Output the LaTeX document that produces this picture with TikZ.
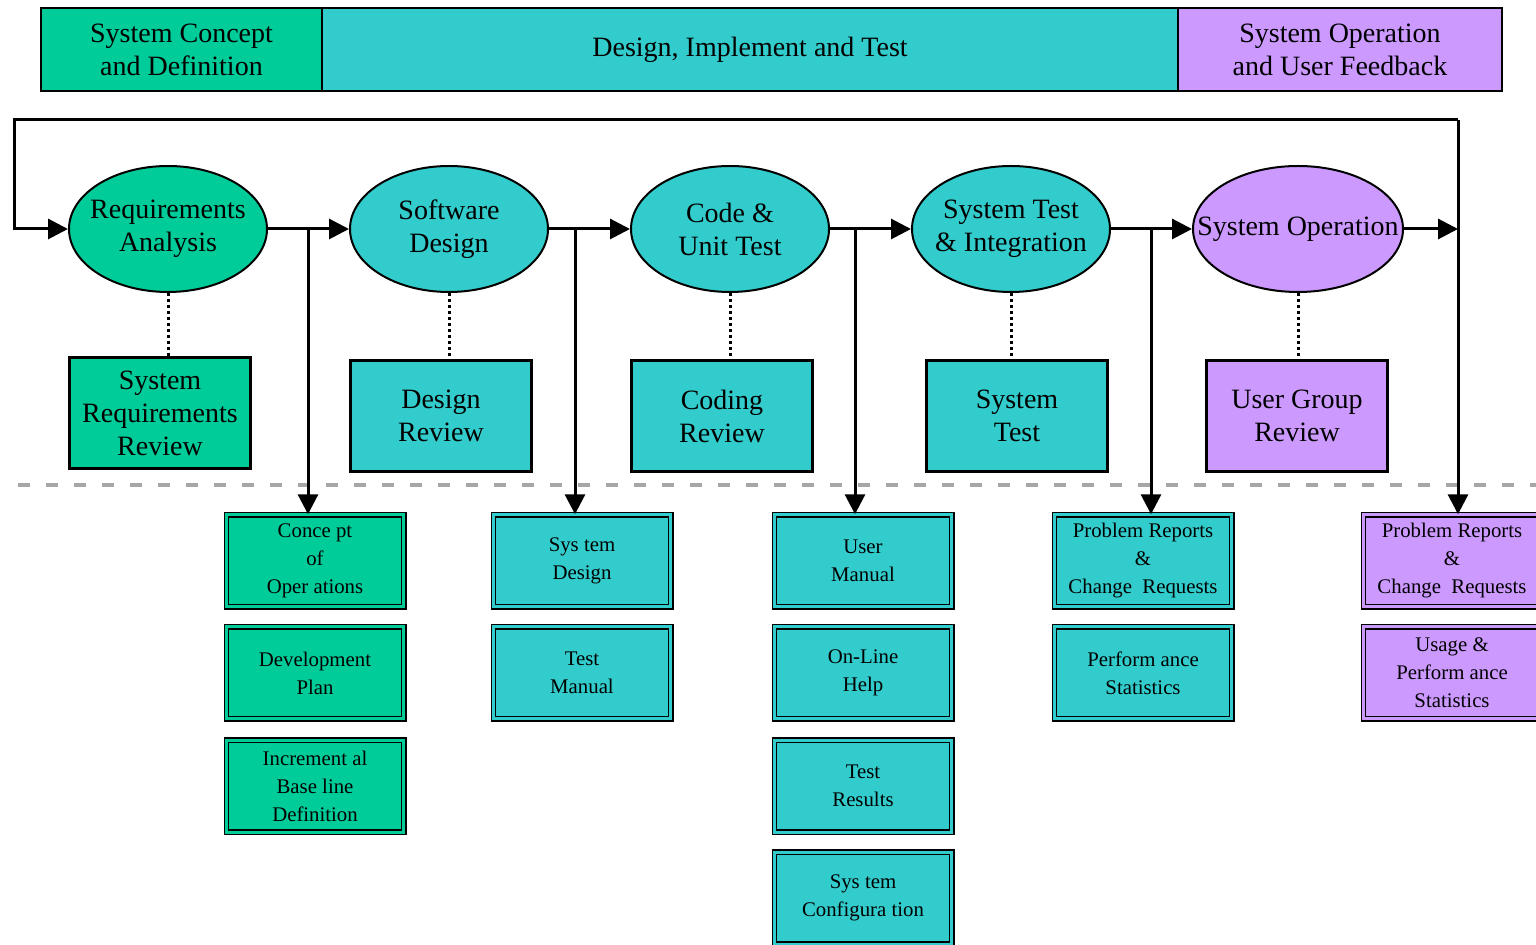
\documentclass[tikz,border=0pt]{standalone}
\usepackage{fontspec}
\setmainfont{Liberation Serif}
\usetikzlibrary{shapes.geometric,arrows.meta}
\definecolor{lcgreen}{HTML}{00CC99}
\definecolor{lccyan}{HTML}{33CCCC}
\definecolor{lcviolet}{HTML}{CC99FF}
\definecolor{lcgrey}{HTML}{A6A6A6}

\begin{document}
\begin{tikzpicture}[
        x=0.5pt, y=-0.5pt,
        every node/.style={font=\fontsize{14}{16.5}\selectfont, align=center, text=black},
        band/.style={
          draw=black, line width=1pt,
          minimum height=41.5pt, inner sep=0pt,
        },
        phase/.style={
          ellipse, draw=black, line width=1pt,
          minimum width=99pt, minimum height=63pt, inner ysep=0pt, inner xsep=-14pt,
        },
        rev/.style={
          draw=black, line width=1.75pt,
          minimum width=90.5pt, minimum height=55.5pt, inner sep=0pt,
        },
        doc/.style={
          draw=black, line width=0.7pt, double=#1, double distance=1.5pt,
          fill=#1, minimum width=88.6pt, minimum height=46pt, inner sep=0pt,
          font=\fontsize{10.4}{14}\selectfont,
        },
        flow/.style={-{Triangle[length=10pt,width=10pt]}, line width=1.5pt},
        tie/.style={line width=1.5pt, dash pattern=on 1.5pt off 1.5pt},
        sep/.style={draw=lcgrey, line width=2pt, dash pattern=on 6pt off 8pt},
      ]
      \useasboundingbox (0,0) rectangle (1536,945);

      % phase banner
      \node[band, fill=lcgreen,  minimum width=140.5pt] (bcon) at (181.5,49.5) {System Concept\\and Definition};
      \node[band, fill=lccyan,   minimum width=428pt]   (bdes) at (750,49.5)   {Design, Implement and Test};
      \node[band, fill=lcviolet, minimum width=162pt]   (bops) at (1340,49.5)  {System Operation\\and User Feedback};

      % activities
      \node[phase, fill=lcgreen]  (ra)  at (168,229)  {Requirements\\Analysis};
      \node[phase, fill=lccyan]   (sd)  at (449,229)  {Software\\Design};
      \node[phase, fill=lccyan]   (cut) at (730,229)  {Code \&\\Unit Test};
      \node[phase, fill=lccyan]   (sti) at (1011,229) {System Test\\\& Integration};
      \node[phase, fill=lcviolet, minimum width=105pt] (sop) at (1298,229) {System Operation};

      % reviews
      \node[rev, fill=lcgreen]  (srr) at (160,413)  {System\\Requirements\\Review};
      \node[rev, fill=lccyan]   (dr)  at (441,416)  {Design\\Review};
      \node[rev, fill=lccyan]   (cr)  at (722,416)  {Coding\\Review};
      \node[rev, fill=lccyan]   (st)  at (1017,416) {System\\Test};
      \node[rev, fill=lcviolet] (ugr) at (1297,416) {User Group\\Review};

      % products
      \node[doc=lcgreen] (cop) at (315,561) {Conce pt\\of\\Oper ations};
      \node[doc=lcgreen] (dp)  at (315,673) {Development\\Plan};
      \node[doc=lcgreen] (ibd) at (315,786) {Increment al\\Base line\\Definition};
      \node[doc=lccyan] (sysd) at (582,561) {Sys tem\\Design};
      \node[doc=lccyan] (tm)   at (582,673) {Test\\Manual};
      \node[doc=lccyan] (um)  at (863,561) {User\\Manual};
      \node[doc=lccyan] (olh) at (863,673) {On-Line\\Help};
      \node[doc=lccyan] (tr)  at (863,786) {Test\\Results};
      \node[doc=lccyan] (sc)  at (863,898) {Sys tem\\Configura tion};
      \node[doc=lccyan] (prc) at (1143,561) {Problem Reports\\\&\\Change\ \ Requests};
      \node[doc=lccyan] (ps)  at (1143,673) {Perform ance\\Statistics};
      \node[doc=lcviolet] (prc2) at (1452,561) {Problem Reports\\\&\\Change\ \ Requests};
      \node[doc=lcviolet] (ups)  at (1452,673) {Usage \&\\Perform ance\\Statistics};

      \coordinate (sl) at (18,485);
      \coordinate (sr) at (1536,485);
      \draw[sep] (sl) -- (sr);

      \coordinate (ne) at (1458,120);
      \coordinate (nw) at (14,120);
      \coordinate (ew) at (1458,229);
      \coordinate (b1) at (308,229);
      \coordinate (b2) at (575,229);
      \coordinate (b3) at (855,229);
      \coordinate (b4) at (1151,229);

      \draw[flow] (ra) -- (sd);
      \draw[flow] (sd) -- (cut);
      \draw[flow] (cut) -- (sti);
      \draw[flow] (sti) -- (sop);
      \draw[flow] (sop) -- (ew);
      \draw[flow] (ne) -- (nw) -- (nw |- ra) -- (ra);
      \draw[flow] (ne) -- (ne |- prc2.north);

      \draw[flow] (b1) -- (b1 |- cop.north);
      \draw[flow] (b2) -- (b2 |- sysd.north);
      \draw[flow] (b3) -- (b3 |- um.north);
      \draw[flow] (b4) -- (b4 |- prc.north);

      \draw[tie] (ra)  -- (ra |- srr.north);
      \draw[tie] (sd)  -- (sd |- dr.north);
      \draw[tie] (cut) -- (cut |- cr.north);
      \draw[tie] (sti) -- (sti |- st.north);
      \draw[tie] (sop) -- (sop |- ugr.north);
    \end{tikzpicture}
\end{document}
